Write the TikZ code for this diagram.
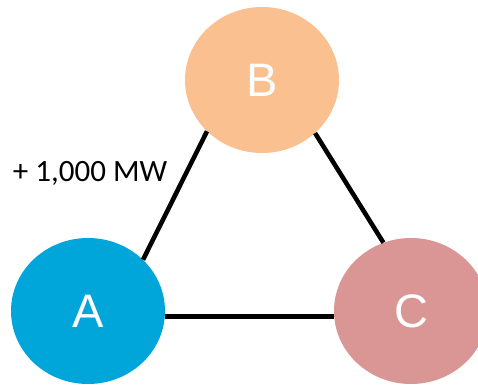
\documentclass[tikz,border=0pt]{standalone}
\usepackage{fontspec}
\setmainfont{Liberation Sans}
\newfontfamily\lblfont{Carlito}
\usetikzlibrary{shapes.geometric}
\definecolor{cA}{HTML}{00A6D9}
\definecolor{cB}{HTML}{FAC090}
\definecolor{cC}{HTML}{D99694}
\tikzset{
  bus/.style={ellipse, minimum width=154pt, minimum height=146pt, inner sep=0pt,
    text=white, font=\fontsize{47}{50}\selectfont},
  link/.style={line width=4.5pt, black},
  linkshadow/.style={line width=4.5pt, black, opacity=0.18}
}
\begin{document}
\begin{tikzpicture}[x=1pt,y=-1pt]
\useasboundingbox (0,0) rectangle (478,385);
\node[bus, fill=cB] (B) at (262,80) {B};
\node[bus, fill=cA] (A) at (88,311) {A};
\node[bus, fill=cC] (C) at (411,311) {C};
\begin{scope}[shift={(1.5,1.5)}]
\draw[linkshadow] (A.43) -- (B.223);
\draw[linkshadow] (B.315) -- (C.112);
\draw[linkshadow] (A.-4) -- (C.184);
\end{scope}
\draw[link] (A.43) -- (B.223);
\draw[link] (B.315) -- (C.112);
\draw[link] (A.-4) -- (C.184);
\node[anchor=base, font=\lblfont\fontsize{31}{34}\selectfont, inner sep=0pt] (L) at (90,181) {+ 1,000 MW};
\end{tikzpicture}
\end{document}
